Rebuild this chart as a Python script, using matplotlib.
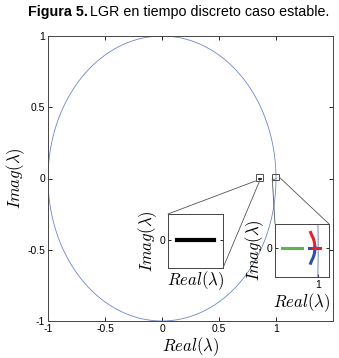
import numpy as np
import matplotlib
matplotlib.use("Agg")
import matplotlib.pyplot as plt
from matplotlib.patches import Rectangle, ConnectionPatch

plt.rcParams['font.family'] = ['Liberation Sans', 'DejaVu Sans']
plt.rcParams['mathtext.fontset'] = 'cm'

# ---- data ----
theta = np.linspace(0, 2 * np.pi, 721)
circle_x = np.cos(theta)
circle_y = np.sin(theta)

main_xticks = [-1, -0.5, 0, 0.5, 1]
main_xticklabels = ['-1', '-0.5', '0', '0.5', '1']
main_yticks = [-1, -0.5, 0, 0.5, 1]
main_yticklabels = ['-1', '-0.5', '0', '0.5', '1']

# branch near 0.86 (black)
black_x = [0.850, 0.870]
black_y = [0.0, 0.0]
# branches near z = 1
green_x = [0.9665, 0.985]
green_y = [0.0, 0.0]
red_real_x = [0.9955, 1.0015]
red_real_y = [0.0, 0.0]
red_arc_x = [0.9970, 0.9968, 0.9962, 0.9952, 0.9940, 0.9930]
red_arc_y = [0.0000, 0.0030, 0.0065, 0.0095, 0.0120, 0.0145]
blue_real_x = [0.9918, 0.9970]
blue_real_y = [0.0, 0.0]
blue_arc_x = [0.9970, 0.9968, 0.9962, 0.9952, 0.9940, 0.9930]
blue_arc_y = [0.0000, -0.0030, -0.0065, -0.0095, -0.0120, -0.0145]

# zoom boxes in main axes (x0, y0, w, h)
box1 = (0.828, -0.015, 0.058, 0.050)
box2 = (0.968, -0.010, 0.060, 0.040)

W, H = 339, 358
fig = plt.figure(figsize=(W / 100, H / 100), dpi=100)

def fr(x0, y0, x1, y1):
    return [x0 / W, (H - y1) / H, (x1 - x0) / W, (y1 - y0) / H]

ax = fig.add_axes(fr(48, 36, 333, 321))
circ_color = '#7085cc'
ax.plot(circle_x, circle_y, color=circ_color, lw=0.6)
ax.plot(black_x, black_y, color='black', lw=1.2)
ax.plot(green_x, green_y, color='#5bb548', lw=1.0)
ax.set_xlim(-1, 1.5)
ax.set_ylim(-1, 1)
ax.set_xticks(main_xticks)
ax.set_xticklabels(main_xticklabels)
ax.set_yticks(main_yticks)
ax.set_yticklabels(main_yticklabels)
ax.tick_params(direction='in', top=True, right=True, labelsize=7.5, length=3, width=0.6, pad=2)
for s in ax.spines.values():
    s.set_linewidth(0.7)
    s.set_color('#444444')
ax.set_xlabel(r'$Real(\lambda)$', fontsize=12, labelpad=1)
ax.set_ylabel(r'$Imag(\lambda)$', fontsize=12, labelpad=0)

for b in (box1, box2):
    ax.add_patch(Rectangle((b[0], b[1]), b[2], b[3], fill=False, lw=0.6, ec='#333333', zorder=5))

# inset 1
a1 = fig.add_axes(fr(168, 214, 223, 268))
a1.plot(black_x, black_y, color='black', lw=3)
a1.set_xlim(0.845, 0.875)
a1.set_ylim(-0.0125, 0.0115)
a1.set_xticks([])
a1.set_yticks([0])
a1.set_yticklabels(['0'])
a1.tick_params(direction='in', right=True, labelsize=7.5, length=2, width=0.6, pad=2)
a1.set_xlabel(r'$Real(\lambda)$', fontsize=12, labelpad=1)
a1.set_ylabel(r'$Imag(\lambda)$', fontsize=12, labelpad=0)

# inset 2
a2 = fig.add_axes(fr(275, 224, 329, 277))
a2.plot(circle_x, circle_y, color=circ_color, lw=0.7)
a2.plot(green_x, green_y, color='#5bb548', lw=2.2)
a2.plot(red_arc_x, red_arc_y, color='#e8202a', lw=2.2)
a2.plot(blue_arc_x, blue_arc_y, color='#2f4fa8', lw=2.2)
a2.plot(blue_real_x, blue_real_y, color='#2f4fa8', lw=2.2)
a2.plot(red_real_x, red_real_y, color='#e8202a', lw=2.2)
a2.set_xlim(0.96, 1.01)
a2.set_ylim(-0.0275, 0.0225)
a2.set_xticks([1])
a2.set_xticklabels(['1'])
a2.set_yticks([0])
a2.set_yticklabels(['0'])
a2.tick_params(direction='in', right=True, labelsize=7.5, length=2, width=0.6, pad=2)
a2.set_xlabel(r'$Real(\lambda)$', fontsize=12, labelpad=1)
a2.set_ylabel(r'$Imag(\lambda)$', fontsize=12, labelpad=0)

for a in (a1, a2):
    for s in a.spines.values():
        s.set_linewidth(0.7)
        s.set_color('#444444')

# connectors
def conn(xy_main, xy_ins, ins):
    cp = ConnectionPatch(xyA=xy_main, coordsA=ax.transData, xyB=xy_ins, coordsB=ins.transAxes,
                         color='#555555', lw=0.6)
    fig.add_artist(cp)

conn((box1[0], box1[1]), (0, 1), a1)
conn((box1[0] + box1[2] * 0.5, box1[1]), (1, 0), a1)
conn((box2[0] + box2[2], box2[1] + box2[3] * 0.5), (1, 1), a2)
conn((box2[0], box2[1]), (0, 1), a2)

fig.text(88 / W, 1 - 12 / H, 'Figura 5.', fontsize=10.3, fontweight='bold', ha='right', va='center')
fig.text(90 / W, 1 - 12 / H, 'LGR en tiempo discreto caso estable.', fontsize=10.3, ha='left', va='center')

fig.savefig('out.png', dpi=100)
